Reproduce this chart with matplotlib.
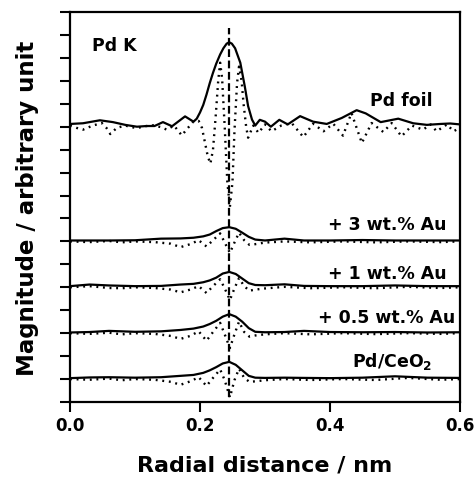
import matplotlib
matplotlib.use("Agg")
import matplotlib.pyplot as plt
import numpy as np

# Pd K-edge Fourier transforms: magnitude (solid) and imaginary part (dotted)
# Pd foil
foil_r = [0.000, 0.020, 0.046, 0.066, 0.085, 0.103, 0.118, 0.130, 0.143, 0.157,
          0.177, 0.190, 0.195, 0.200, 0.205, 0.210, 0.215, 0.220, 0.225, 0.231,
          0.236, 0.241, 0.245, 0.249, 0.254, 0.262, 0.269, 0.274, 0.280, 0.285,
          0.292, 0.300, 0.309, 0.322, 0.335, 0.354, 0.374, 0.395, 0.418, 0.441,
          0.455, 0.478, 0.505, 0.528, 0.549, 0.570, 0.585, 0.600]
foil_mag = [0.12, 0.15, 0.28, 0.20, 0.08, 0.00, 0.03, 0.03, 0.20, 0.02,
            0.45, 0.22, 0.35, 0.62, 0.95, 1.40, 1.90, 2.35, 2.75, 3.15,
            3.42, 3.62, 3.68, 3.62, 3.42, 2.79, 1.74, 0.90, 0.31, 0.05,
            0.30, 0.22, 0.00, 0.30, 0.10, 0.46, 0.22, 0.12, 0.38, 0.72,
            0.58, 0.20, 0.35, 0.15, 0.08, 0.12, 0.14, 0.10]

foil_im_r = [0.000, 0.010, 0.020, 0.035, 0.049, 0.056, 0.062, 0.072, 0.085, 0.095,
             0.103, 0.115, 0.128, 0.140, 0.149, 0.160, 0.172, 0.180, 0.190, 0.198,
             0.203, 0.207, 0.212, 0.216, 0.220, 0.224, 0.228, 0.231, 0.234, 0.238,
             0.242, 0.246, 0.250, 0.253, 0.257, 0.260, 0.264, 0.267, 0.271, 0.274,
             0.282, 0.290, 0.300, 0.310, 0.325, 0.341, 0.359, 0.374, 0.390, 0.405,
             0.420, 0.433, 0.449, 0.464, 0.482, 0.495, 0.510, 0.526, 0.543, 0.555,
             0.564, 0.580, 0.590, 0.600]
foil_im = [0.05, -0.05, -0.13, 0.05, 0.16, -0.05, -0.32, -0.05, 0.05, -0.02,
           -0.06, 0.02, 0.06, -0.02, -0.13, 0.05, -0.38, -0.10, 0.23, 0.25,
           -0.05, -0.60, -1.30, -1.61, -1.00, 0.40, 2.00, 2.79, 2.10, 0.00,
           -2.40, -3.49, -2.40, -0.20, 1.90, 2.62, 2.00, 1.00, 0.00, -0.48,
           0.05, -0.27, 0.10, -0.20, 0.05, 0.16, -0.45, 0.13, -0.20, 0.13,
           -0.39, 0.60, -0.71, 0.16, -0.23, 0.16, -0.42, 0.05, -0.13, 0.10,
           -0.20, 0.10, -0.20, -0.05]

# Pd/CeO2 samples with gold
r_mag = [0.00, 0.03, 0.06, 0.10, 0.14, 0.17, 0.19, 0.205, 0.215, 0.225, 0.235, 0.245,
         0.255, 0.265, 0.275, 0.285, 0.30, 0.33, 0.36, 0.40, 0.45, 0.50, 0.55, 0.60]
au3_mag = [0.04, 0.04, 0.04, 0.05, 0.12, 0.13, 0.16, 0.22, 0.30, 0.45, 0.58, 0.62,
           0.55, 0.38, 0.20, 0.08, 0.04, 0.12, 0.04, 0.04, 0.06, 0.04, 0.04, 0.04]
au1_mag = [0.05, 0.12, 0.08, 0.05, 0.06, 0.12, 0.15, 0.22, 0.30, 0.42, 0.60, 0.67,
           0.58, 0.38, 0.18, 0.10, 0.09, 0.13, 0.06, 0.05, 0.05, 0.08, 0.05, 0.05]
au05_mag = [0.03, 0.05, 0.10, 0.06, 0.08, 0.14, 0.20, 0.29, 0.40, 0.54, 0.72, 0.83,
            0.72, 0.50, 0.22, 0.06, 0.04, 0.05, 0.10, 0.05, 0.04, 0.05, 0.03, 0.04]
ceo2_mag = [0.04, 0.07, 0.08, 0.06, 0.08, 0.14, 0.18, 0.27, 0.38, 0.52, 0.68, 0.75,
            0.62, 0.38, 0.14, 0.06, 0.05, 0.06, 0.05, 0.04, 0.06, 0.12, 0.06, 0.05]

r_im = [0.00, 0.03, 0.06, 0.08, 0.10, 0.13, 0.155, 0.17, 0.185, 0.198, 0.210, 0.220,
        0.231, 0.238, 0.246, 0.253, 0.260, 0.268, 0.276, 0.285, 0.30, 0.33, 0.37,
        0.42, 0.47, 0.52, 0.57, 0.60]
au3_im = [0.00, -0.03, 0.02, -0.04, 0.00, -0.03, -0.10, -0.25, -0.12, 0.05, -0.22, 0.05,
          0.35, -0.05, -0.50, -0.05, 0.38, 0.05, -0.15, -0.12, -0.05, 0.00, -0.04,
          0.00, -0.04, 0.00, -0.03, 0.00]
au1_im = [0.00, 0.05, -0.03, -0.04, 0.00, -0.03, -0.10, -0.22, -0.10, 0.05, -0.25, 0.05,
          0.35, -0.05, -0.55, -0.05, 0.40, 0.05, -0.15, -0.10, -0.05, 0.02, -0.04,
          0.00, -0.04, 0.02, -0.03, 0.00]
au05_im = [0.00, -0.03, 0.02, -0.05, 0.00, -0.03, -0.12, -0.25, -0.12, 0.08, -0.33, 0.05,
           0.45, -0.05, -0.65, -0.05, 0.50, 0.05, -0.15, -0.10, -0.05, 0.00, -0.05,
           0.00, -0.04, 0.00, -0.03, 0.00]
ceo2_im = [0.00, -0.03, 0.02, -0.05, 0.00, -0.03, -0.12, -0.25, -0.10, 0.08, -0.30, 0.05,
           0.42, -0.05, -0.80, -0.05, 0.45, 0.05, -0.12, -0.10, -0.05, 0.00, -0.04,
           0.00, -0.04, 0.05, -0.03, 0.00]

sample_labels = ["+ 3 wt.% Au", "+ 1 wt.% Au", "+ 0.5 wt.% Au", r"Pd/CeO$_\mathbf{2}$"]
sample_offsets = [7, 5, 3, 1]
foil_offset = 12
pd_pd_distance = 0.245

fig = plt.figure(figsize=(4.77, 4.81), dpi=100)
ax = fig.add_axes([70 / 477, 78 / 481, 390 / 477, 390 / 481])

line_kw = dict(color="black", lw=1.6)
dot_kw = dict(color="black", lw=1.7, linestyle=(0, (0.8, 2.0)))

ax.plot(foil_r, np.array(foil_mag) + foil_offset, **line_kw)
ax.plot(foil_im_r, np.array(foil_im) + foil_offset, **dot_kw)

mags = [au3_mag, au1_mag, au05_mag, ceo2_mag]
ims = [au3_im, au1_im, au05_im, ceo2_im]
for mag, im, off in zip(mags, ims, sample_offsets):
    ax.plot(r_mag, np.array(mag) + off, **line_kw)
    ax.plot(r_im, np.array(im) + off, **dot_kw)

# Pd-Pd peak position
ax.plot([pd_pd_distance, pd_pd_distance], [0.2, 16.3], color="black", lw=1.6,
        linestyle=(0, (3.5, 1.6)))

txt_kw = dict(fontsize=12.5, fontweight="bold", va="center")
ax.text(0.034, 15.56, "Pd K", ha="left", **txt_kw)
ax.text(0.558, 13.16, "Pd foil", ha="right", **txt_kw)
label_pos = [(0.580, 7.76), (0.580, 5.62), (0.592, 3.71), (0.557, 1.79)]
for lab, (x, y) in zip(sample_labels, label_pos):
    ax.text(x, y, lab, ha="right", **txt_kw)

ax.set_xlim(0, 0.6)
ax.set_ylim(0, 17)
ax.set_xticks([0.0, 0.2, 0.4, 0.6])
ax.set_xticklabels(["0.0", "0.2", "0.4", "0.6"], fontsize=12, fontweight="bold")
ax.set_yticks(np.arange(0, 18))
ax.set_yticklabels([])
ax.tick_params(direction="out", length=7, width=1.5, pad=3)
for s in ax.spines.values():
    s.set_linewidth(1.6)

ax.set_xlabel("Radial distance / nm", fontsize=16, fontweight="bold", labelpad=15)
ax.set_ylabel("Magnitude / arbitrary unit", fontsize=16.5, fontweight="bold")
ax.yaxis.set_label_coords(-0.08, 0.5)

fig.savefig("out.png", dpi=100)
